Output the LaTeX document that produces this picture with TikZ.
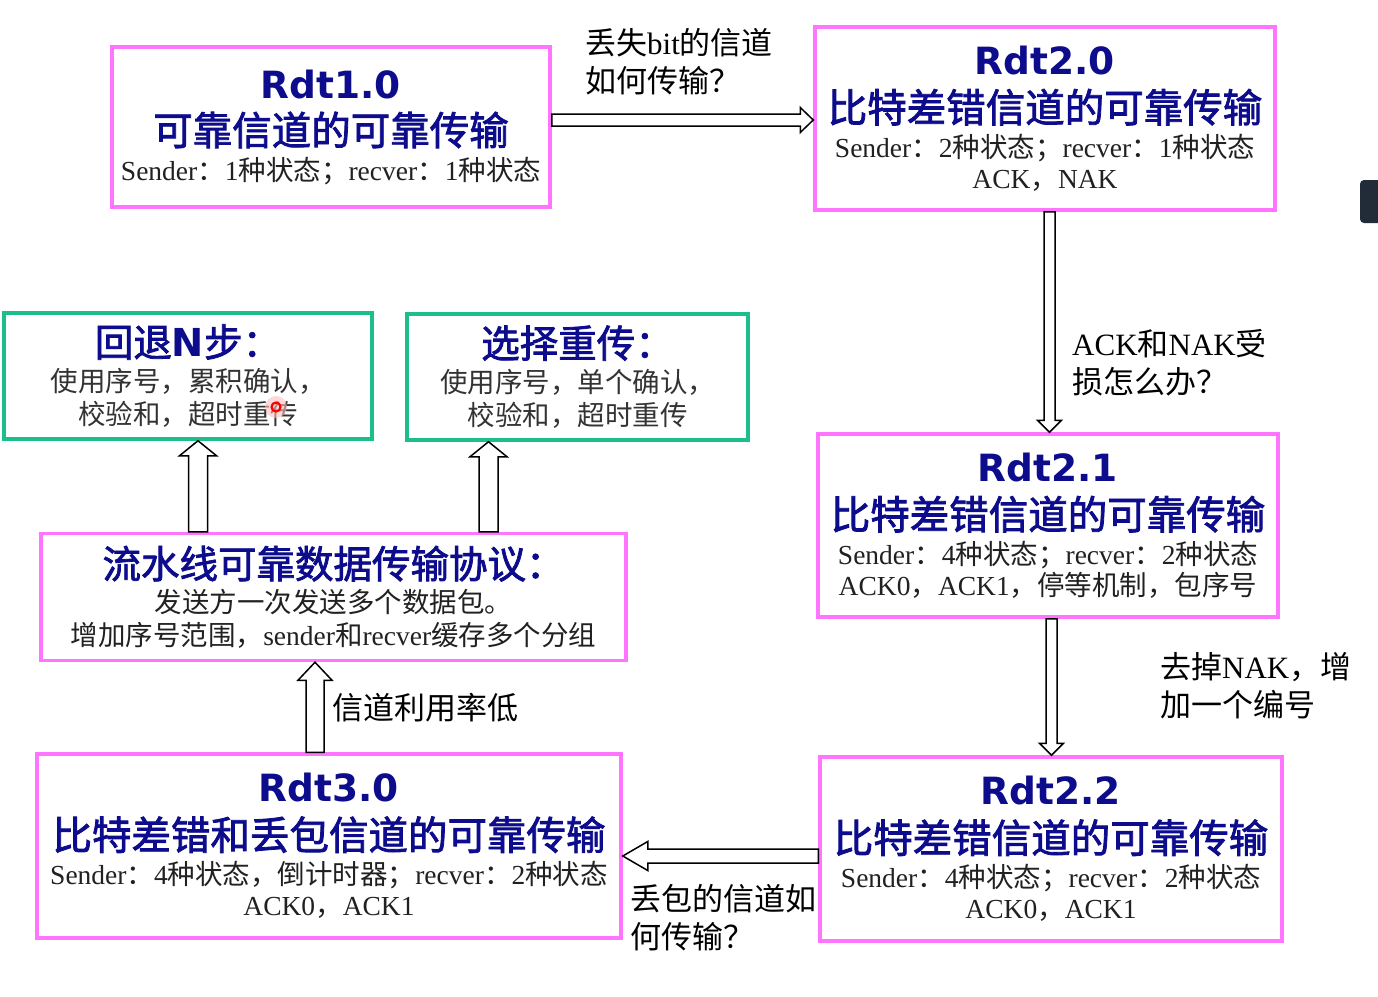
\documentclass[tikz,border=0pt]{standalone}
\usepackage{fontspec}
\setmainfont{Liberation Serif}
\setsansfont{DejaVu Sans}
\newfontfamily\cjk{Noto Sans CJK SC}
\newfontfamily\cjkheavy[FakeBold=2]{Noto Sans CJK SC}
\usetikzlibrary{calc,positioning}

\definecolor{boxpink}{RGB}{255,117,255}
\definecolor{boxgreen}{RGB}{28,190,140}
\definecolor{titleblue}{RGB}{12,12,140}
\definecolor{bodygray}{RGB}{51,51,51}
\definecolor{panelgray}{RGB}{34,43,56}

\newcommand{\lat}[1]{{\rmfamily #1}}
\newcommand{\rdt}[1]{{\fontsize{37.5}{33}\selectfont\sffamily\bfseries\color{titleblue}#1}}
\newcommand{\cjktitle}[1]{{\fontsize{39.5}{33}\selectfont\cjkheavy\color{titleblue}#1}}
\newcommand{\cjkhead}[1]{{\fontsize{38.5}{33}\selectfont\cjkheavy\color{titleblue}#1}}
\newcommand{\blockarrow}[5]{%
\coordinate (head) at ($(#2)!#5!(#1)$);
\draw[arrowline] ($(#1)!#3!90:(#2)$) -- ($(head)!#3!90:(#2)$)
  -- ($(head)!#4!90:(#2)$) -- (#2) -- ($(head)!#4!-90:(#2)$)
  -- ($(head)!#3!-90:(#2)$) -- ($(#1)!#3!-90:(#2)$) -- cycle;}

\begin{document}
\begin{tikzpicture}[x=1pt,y=-1pt,
  rdtbox/.style={draw=boxpink,line width=3.5pt,align=center,inner sep=0pt,
    text=black!87,font={\cjk\fontsize{27.5}{33}\selectfont\lineskiplimit=-100pt}},
  greenbox/.style={rdtbox,draw=boxgreen,text=bodygray},
  note/.style={inner sep=0pt,align=left,
    font={\cjk\fontsize{31}{38}\selectfont\lineskiplimit=-100pt}},
  arrowline/.style={draw=black,line width=1.5pt,fill=white}]
\useasboundingbox (0,0) rectangle (1378,996);
\fill[white] (0,0) rectangle (1378,996);
% Rdt1.0
\node[rdtbox,minimum width=438pt,minimum height=160pt] (r10) at (331,127) {
\rdt{Rdt1.0}\\[14pt]
\cjktitle{可靠信道的可靠传输}\\[2pt]
\lat{Sender}：\lat{1}种状态；\lat{recver}：\lat{1}种状态
};
% Rdt2.0
\node[rdtbox,minimum width=460pt,minimum height=183pt] (r20) at (1045,118.5) {
\rdt{Rdt2.0}\\[15pt]
\cjktitle{比特差错信道的可靠传输}\\[2pt]
\lat{Sender}：\lat{2}种状态；\lat{recver}：\lat{1}种状态\\[-2pt]
\lat{ACK}，\lat{NAK}
};
% Rdt2.1
\node[rdtbox,minimum width=460pt,minimum height=183pt] (r21) at (1048,525.5) {
\rdt{Rdt2.1}\\[15pt]
\cjktitle{比特差错信道的可靠传输}\\[2pt]
\lat{Sender}：\lat{4}种状态；\lat{recver}：\lat{2}种状态\\[-2pt]
\lat{ACK0}，\lat{ACK1}，停等机制，包序号
};
% Rdt2.2
\node[rdtbox,minimum width=462pt,minimum height=184pt] (r22) at (1051,849) {
\rdt{Rdt2.2}\\[15pt]
\cjktitle{比特差错信道的可靠传输}\\[2pt]
\lat{Sender}：\lat{4}种状态；\lat{recver}：\lat{2}种状态\\[-2pt]
\lat{ACK0}，\lat{ACK1}
};
% Rdt3.0
\node[rdtbox,minimum width=584pt,minimum height=184pt] (r30) at (329,846) {
\rdt{Rdt3.0}\\[15pt]
\cjktitle{比特差错和丢包信道的可靠传输}\\[2pt]
\lat{Sender}：\lat{4}种状态，倒计时器；\lat{recver}：\lat{2}种状态\\[-2pt]
\lat{ACK0}，\lat{ACK1}
};
% pipelining
\node[rdtbox,minimum width=585pt,minimum height=127pt] (pipe) at (333.5,597) {
\cjkhead{流水线可靠数据传输协议：}\\[1pt]
发送方一次发送多个数据包。\\
增加序号范围，\lat{sender}和\lat{recver}缓存多个分组
};
% GBN
\node[greenbox,minimum width=368pt,minimum height=126pt] (gbn) at (188,376) {
\cjkhead{回退{\sffamily\bfseries N}步：}\\[2pt]
使用序号，累积确认，\\
校验和，超时重传
};
% SR
\node[greenbox,minimum width=341pt,minimum height=126pt] (sr) at (577.5,377) {
\cjkhead{选择重传：}\\[2pt]
使用序号，单个确认，\\
校验和，超时重传
};
% arrows
\coordinate (a1s) at (r10.east |- 0,120);
\coordinate (a1e) at (r20.west |- 0,120);
\blockarrow{a1s}{a1e}{6pt}{12.5pt}{13pt}
\coordinate (a2s) at (1049.5,0 |- r20.south);
\coordinate (a2e) at (1049.5,0 |- r21.north);
\blockarrow{a2s}{a2e}{5.5pt}{12pt}{12pt}
\coordinate (a3s) at (1051.5,0 |- r21.south);
\coordinate (a3e) at (1051.5,0 |- r22.north);
\blockarrow{a3s}{a3e}{5.5pt}{12pt}{12pt}
\coordinate (a4s) at (r22.west |- 0,856);
\coordinate (a4e) at (r30.east |- 0,856);
\blockarrow{a4s}{a4e}{7pt}{14.5pt}{25pt}
\coordinate (a5s) at (315,0 |- r30.north);
\coordinate (a5e) at (315,0 |- pipe.south);
\blockarrow{a5s}{a5e}{9pt}{17pt}{18pt}
\coordinate (a6s) at (198,0 |- pipe.north);
\coordinate (a6e) at (198,0 |- gbn.south);
\blockarrow{a6s}{a6e}{9.5pt}{18.5pt}{15pt}
\coordinate (a7s) at (488.5,0 |- pipe.north);
\coordinate (a7e) at (488.5,0 |- sr.south);
\blockarrow{a7s}{a7e}{9.5pt}{18.5pt}{15pt}
% labels
\node[note,anchor=west] (lbit) at (585,61.5) {丢失\lat{bit}的信道\\如何传输？};
\node[note,anchor=west] (lack) at (1072,363) {\lat{ACK}和\lat{NAK}受\\损怎么办？};
\node[note,anchor=west] (lnak) at (1160,686) {去掉\lat{NAK}，增\\加一个编号};
\node[note,anchor=west] (lloss) at (630,917.5) {丢包的信道如\\何传输？};
\node[note,anchor=west] (lrate) at (332,708) {信道利用率低};
% screen
\fill[panelgray,rounded corners=4pt] (1360,180) rectangle (1392,223);
\fill[red!25,opacity=0.6] (276,407) circle (11pt);
\draw[red,line width=2.2pt] (276,407) circle (4.5pt);
\end{tikzpicture}
\end{document}
